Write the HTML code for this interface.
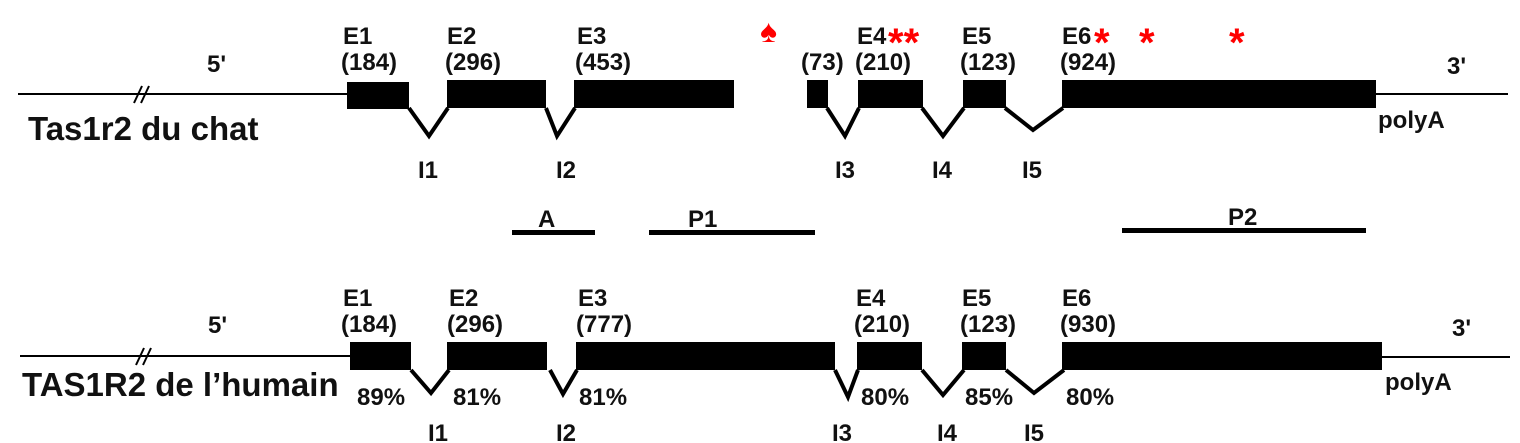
<!DOCTYPE html>
<html><head><meta charset="utf-8"><style>
html,body{margin:0;padding:0;background:#fff;}
svg{display:block;}
text{font-family:"Liberation Sans",Arial,sans-serif;font-weight:bold;fill:#111;}
.r{fill:#f00;}
</style></head><body>
<svg width="1520" height="443" viewBox="0 0 1520 443" xmlns="http://www.w3.org/2000/svg">
<g stroke="#000" fill="none">
<line x1="18" y1="94" x2="347" y2="94" stroke-width="2"/>
<line x1="1376" y1="94" x2="1508" y2="94" stroke-width="2"/>
<line x1="134" y1="103" x2="142" y2="86" stroke-width="2"/>
<line x1="141" y1="103" x2="149" y2="86" stroke-width="2"/>
<polyline points="409,108 429,136 448,108" stroke-width="4"/>
<polyline points="546,108 557,136 575,108" stroke-width="4"/>
<polyline points="827,108 845,136 859,108" stroke-width="4"/>
<polyline points="922,108 943,136 964,108" stroke-width="4"/>
<polyline points="1005,108 1033,130 1063,108" stroke-width="4"/>
<line x1="20" y1="356" x2="350" y2="356" stroke-width="2"/>
<line x1="1382" y1="357" x2="1510" y2="357" stroke-width="2"/>
<line x1="136" y1="365" x2="144" y2="348" stroke-width="2"/>
<line x1="143" y1="365" x2="151" y2="348" stroke-width="2"/>
<polyline points="411,370 431,393 449,370" stroke-width="4"/>
<polyline points="550,370 563,394 577,370" stroke-width="4"/>
<polyline points="835,370 848,397 858,370" stroke-width="4"/>
<polyline points="922,370 943,395 964,370" stroke-width="4"/>
<polyline points="1006,370 1034,393 1064,370" stroke-width="4"/>
</g>
<g fill="#000">
<rect x="347" y="82" width="62" height="27"/>
<rect x="447" y="80" width="99" height="28"/>
<rect x="574" y="80" width="160" height="28"/>
<rect x="807" y="80" width="21" height="28"/>
<rect x="858" y="80" width="65" height="28"/>
<rect x="963" y="80" width="43" height="28"/>
<rect x="1062" y="80" width="314" height="28"/>
<rect x="350" y="342" width="61" height="28"/>
<rect x="447" y="342" width="100" height="28"/>
<rect x="576" y="342" width="259" height="28"/>
<rect x="857" y="342" width="65" height="28"/>
<rect x="962" y="342" width="44" height="28"/>
<rect x="1062" y="342" width="320" height="28"/>
<rect x="512" y="230" width="83" height="5"/>
<rect x="649" y="230" width="166" height="5"/>
<rect x="1122" y="228" width="244" height="5"/>
</g>
<g font-size="24">
<text x="343" y="44">E1</text><text x="341" y="70">(184)</text>
<text x="447" y="44">E2</text><text x="445" y="70">(296)</text>
<text x="577" y="44">E3</text><text x="575" y="70">(453)</text>
<text x="801" y="70">(73)</text>
<text x="857" y="44">E4</text><text x="855" y="70">(210)</text>
<text x="962" y="44">E5</text><text x="960" y="70">(123)</text>
<text x="1062" y="44">E6</text><text x="1060" y="70">(924)</text>
<text x="207" y="72">5'</text>
<text x="1447" y="74">3'</text>
<text x="1378" y="128">polyA</text>
<text x="418" y="178">I1</text><text x="556" y="178">I2</text>
<text x="835" y="178">I3</text><text x="932" y="178">I4</text><text x="1022" y="178">I5</text>
<text x="538" y="227">A</text><text x="688" y="227">P1</text><text x="1228" y="225">P2</text>
<text x="343" y="306">E1</text><text x="341" y="332">(184)</text>
<text x="449" y="306">E2</text><text x="447" y="332">(296)</text>
<text x="578" y="306">E3</text><text x="576" y="332">(777)</text>
<text x="856" y="306">E4</text><text x="854" y="332">(210)</text>
<text x="962" y="306">E5</text><text x="960" y="332">(123)</text>
<text x="1062" y="306">E6</text><text x="1060" y="332">(930)</text>
<text x="208" y="333">5'</text>
<text x="1452" y="336">3'</text>
<text x="1385" y="390">polyA</text>
<text x="357" y="405">89%</text><text x="453" y="405">81%</text><text x="579" y="405">81%</text>
<text x="861" y="405">80%</text><text x="965" y="405">85%</text><text x="1066" y="405">80%</text>
<text x="428" y="441">I1</text><text x="556" y="441">I2</text>
<text x="832" y="441">I3</text><text x="937" y="441">I4</text><text x="1024" y="441">I5</text>
</g>
<text x="28" y="140" font-size="33">Tas1r2 du chat</text>
<text x="22" y="396" font-size="33">TAS1R2 de l’humain</text>
<g font-size="40">
<text class="r" x="888" y="56">**</text>
<text class="r" x="1094" y="56">*</text>
<text class="r" x="1139" y="56">*</text>
<text class="r" x="1229" y="56">*</text>
</g>
<text class="r" x="760" y="42" font-size="32">♠</text>
</svg>
</body></html>
